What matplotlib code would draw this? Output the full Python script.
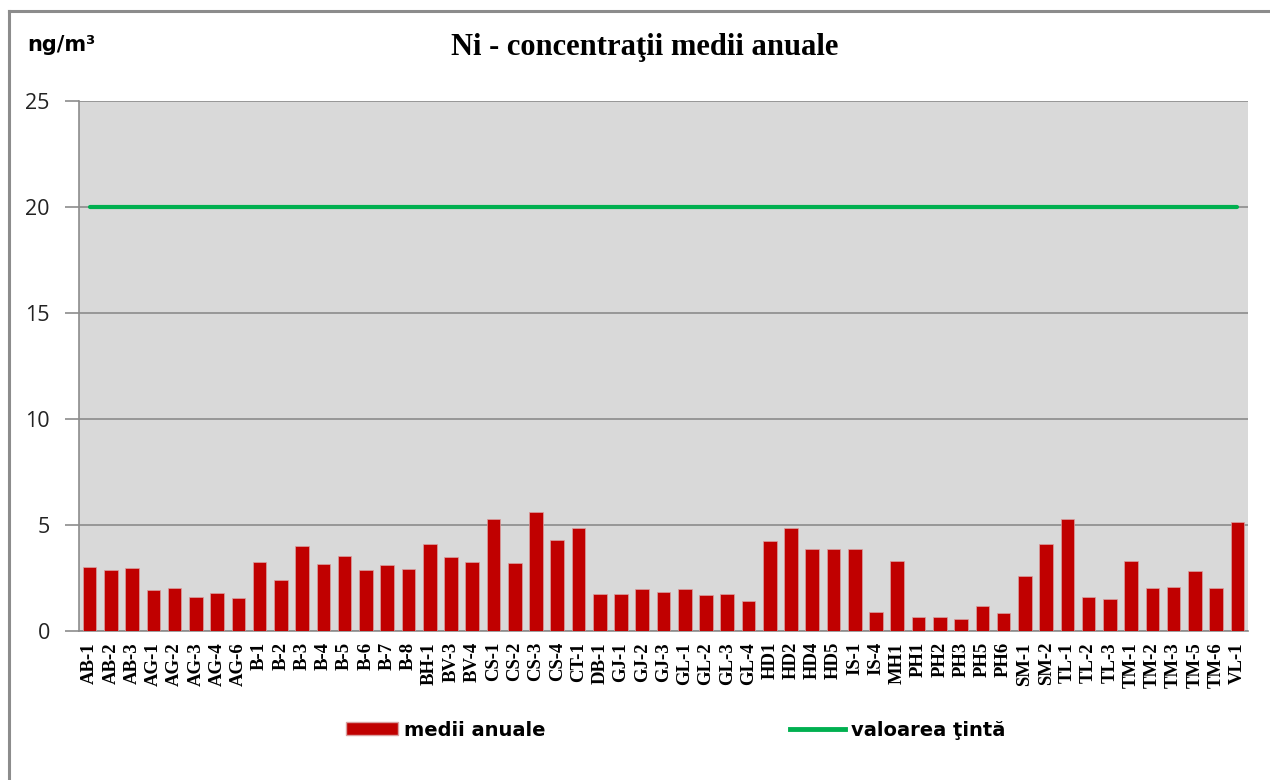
import matplotlib
matplotlib.use("Agg")
import matplotlib.pyplot as plt
from matplotlib.patches import Patch
from matplotlib.lines import Line2D

stations = ["AB-1", "AB-2", "AB-3", "AG-1", "AG-2", "AG-3", "AG-4", "AG-6",
            "B-1", "B-2", "B-3", "B-4", "B-5", "B-6", "B-7", "B-8",
            "BH-1", "BV-3", "BV-4", "CS-1", "CS-2", "CS-3", "CS-4", "CT-1",
            "DB-1", "GJ-1", "GJ-2", "GJ-3", "GL-1", "GL-2", "GL-3", "GL-4",
            "HD1", "HD2", "HD4", "HD5", "IS-1", "IS-4", "MH1",
            "PH1", "PH2", "PH3", "PH5", "PH6", "SM-1", "SM-2",
            "TL-1", "TL-2", "TL-3", "TM-1", "TM-2", "TM-3", "TM-5", "TM-6", "VL-1"]
medii_anuale = [3.02, 2.88, 2.97, 1.93, 2.03, 1.60, 1.79, 1.56,
                3.25, 2.40, 4.00, 3.16, 3.54, 2.88, 3.10, 2.92,
                4.10, 3.49, 3.25, 5.28, 3.20, 5.61, 4.29, 4.86,
                1.75, 1.75, 1.98, 1.84, 1.98, 1.70, 1.75, 1.41,
                4.25, 4.86, 3.87, 3.87, 3.87, 0.90, 3.30,
                0.66, 0.66, 0.57, 1.18, 0.85, 2.60, 4.10,
                5.28, 1.60, 1.51, 3.30, 2.03, 2.08, 2.83, 2.03, 5.14]
valoarea_tinta = [20] * len(stations)
y_ticks = [0, 5, 10, 15, 20, 25]

W, H = 1270, 780
fig = plt.figure(figsize=(W / 100, H / 100), dpi=100)
fig.patch.set_facecolor("white")

# outer frame (left and top edges visible)
fig.add_artist(Line2D([9 / W, 9 / W], [0, 1 - 11 / H], color="#8c8c8c", lw=2.2,
                      transform=fig.transFigure))
fig.add_artist(Line2D([9 / W, 1], [1 - 11 / H, 1 - 11 / H], color="#8c8c8c", lw=2.2,
                      transform=fig.transFigure))

left, right, top, bottom = 79, 1248, 101, 631
ax = fig.add_axes([left / W, 1 - bottom / H, (right - left) / W, (bottom - top) / H])
ax.set_facecolor("#d9d9d9")

x = list(range(len(stations)))
ax.bar(x, medii_anuale, width=0.64, color="#c00000", edgecolor="#d9a0a0",
       linewidth=0.5, zorder=3)
ax.plot(x, valoarea_tinta, color="#00b050", lw=3, solid_capstyle="round", zorder=4)

ax.set_xlim(-0.5, len(stations) - 0.5)
ax.set_ylim(0, 25)
ax.set_yticks(y_ticks)
ax.set_yticklabels([str(v) for v in y_ticks], fontsize=15.5, color="#222222",
                   family=["Open Sans", "DejaVu Sans"])
ax.yaxis.grid(True, color="#8c8c8c", lw=1.2, zorder=1)
ax.set_axisbelow(True)
ax.tick_params(axis="y", length=10, color="#8c8c8c", width=1.2, pad=11)
ax.set_xticks(x)
ax.set_xticklabels(stations, rotation=90, fontsize=13.5, fontweight="bold",
                   family="Liberation Serif", color="black")
ax.tick_params(axis="x", length=0, pad=8)
for s in ["top", "right"]:
    ax.spines[s].set_visible(False)
ax.spines["left"].set_color("#8c8c8c")
ax.spines["left"].set_linewidth(1.2)
ax.spines["bottom"].set_color("#8c8c8c")
ax.spines["bottom"].set_linewidth(1.2)

fig.text(27 / W, 1 - 45 / H, "ng/m³", fontsize=15, fontweight="bold",
         family=["DejaVu Sans"], va="center", ha="left")
fig.text(645 / W, 1 - 48 / H, "Ni - concentraţii medii anuale", fontsize=22,
         fontweight="bold", family="Liberation Serif", va="center", ha="center")

prop = {"family": "DejaVu Sans", "weight": "bold", "size": 14}
h1 = [Patch(facecolor="#c00000", edgecolor="#d9a0a0", label="medii anuale")]
h2 = [Line2D([0], [0], color="#00b050", lw=3.5, label="valoarea ţintă")]
leg1 = fig.legend(handles=h1, loc="center left", bbox_to_anchor=(346 / W, 1 - 730 / H),
                  frameon=False, borderpad=0, borderaxespad=0, handlelength=2.68,
                  handleheight=0.67, handletextpad=0.3, prop=prop)
leg2 = fig.legend(handles=h2, loc="center left", bbox_to_anchor=(790 / W, 1 - 730 / H),
                  frameon=False, borderpad=0, borderaxespad=0, handlelength=2.83,
                  handletextpad=0.3, prop=prop)

fig.savefig("out.png", dpi=100, facecolor="white")
